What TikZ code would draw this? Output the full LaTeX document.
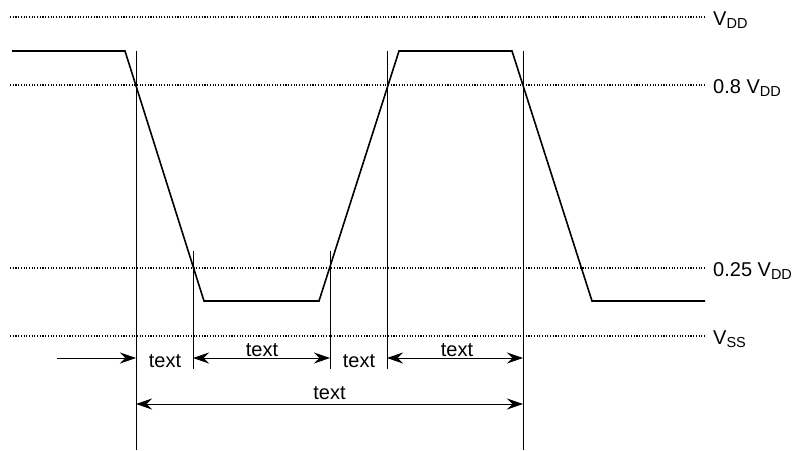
\documentclass[tikz,border=0pt]{standalone}
\usepackage{fontspec}
\setmainfont{Liberation Sans}
\usetikzlibrary{arrows.meta}
\newcommand{\lowsub}[1]{\raisebox{-3pt}{\fontsize{14.5}{14.5}\selectfont #1}}

\begin{document}
\begin{tikzpicture}[x=1pt, y=-1pt,
        level/.style={line width=1.1pt, dash pattern=on 1.1pt off 1.6pt},
        wave/.style={line width=1.6pt, line join=miter},
        guide/.style={line width=0.9pt},
        tip/.tip={Stealth[length=16pt, width=11pt, inset=5.5pt]},
        dim/.style={line width=0.9pt, tip-tip},
        dimto/.style={line width=0.9pt, -tip},
        lbl/.style={anchor=base west, inner sep=0pt, font=\fontsize{20}{24}\selectfont},
        txt/.style={anchor=base, inner sep=0pt, font=\fontsize{20}{24}\selectfont}
    ]
      \useasboundingbox (0,0) rectangle (798,450);

      % Voltage levels
      \foreach \y/\name in {17/vdd, 85/hi, 268/lo, 336/vss} {
        \coordinate (\name-l) at (10,\y);
        \coordinate (\name-r) at (705,\y);
        \draw[level] (\name-l) -- (\name-r);
      }
      \node[lbl] (vddtxt) at (713,25) {V\lowsub{DD}};
      \node[lbl] (hitxt) at (713,93) {0.8 V\lowsub{DD}};
      \node[lbl] (lotxt) at (713,276) {0.25 V\lowsub{DD}};
      \node[lbl] (vsstxt) at (713,344) {V\lowsub{SS}};

      % Signal
      \draw[wave] (12,51) -- (125,51) -- (204,301) -- (319,301)
        -- (399,51) -- (512,51) -- (592,301) -- (705,301);

      % Timing marks
      \foreach \x/\name/\top/\bot in {136/ga/51/450, 193/gb/251/369, 330/gc/251/369,
          387/gd/51/369, 523/ge/51/450} {
        \coordinate (\name-t) at (\x,\top);
        \coordinate (\name-b) at (\x,\bot);
        \coordinate (\name-1) at (\x,358);
        \coordinate (\name-2) at (\x,404);
        \draw[guide] (\name-t) -- (\name-b);
      }
      \coordinate (start) at (57,358);

      % Intervals
      \draw[dimto] (start) -- (ga-1);
      \draw[dim] (gb-1) -- (gc-1);
      \draw[dim] (gd-1) -- (ge-1);
      \draw[dim] (ga-2) -- (ge-2);

      \node[txt] (fall) at (165,367) {text};
      \node[txt] (low) at (262,356) {text};
      \node[txt] (rise) at (359,367) {text};
      \node[txt] (high) at (457,356) {text};
      \node[txt] (period) at (329.5,399) {text};
    \end{tikzpicture}
\end{document}
